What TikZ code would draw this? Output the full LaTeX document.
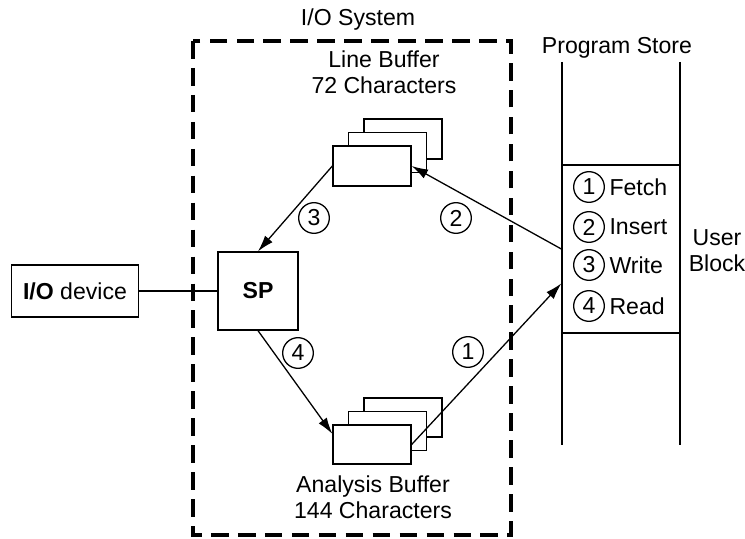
\documentclass[tikz,border=0pt]{standalone}
\usepackage{fontspec}
\setmainfont{Liberation Sans}
\usetikzlibrary{arrows.meta}

\begin{document}
\begin{tikzpicture}[x=0.03cm, y=-0.03cm, line width=1.1pt,
    every node/.style={font=\fontsize{19.7}{22}\selectfont},
    box/.style={draw, fill=white, inner sep=0pt},
    num/.style={draw, circle, inner sep=0pt, minimum size=0.92cm},
    arr/.style={-{Latex[length=14pt, width=8.5pt]}}]
  % \draw [step=10, gray, very thin] (0, 0) grid (745, 539);
  \useasboundingbox (0, 0) rectangle (745, 539);
  \draw [line width=3pt, dash pattern=on 15pt off 8pt] (193, 41) rectangle (511, 535);
  \node (iosys) at (358, 20) {I/O System};
  \node (dev) [box, minimum width=3.81cm, minimum height=1.56cm] at (75, 291) {\textbf{I/O} device};
  \node (sp) [box, minimum width=2.4cm, minimum height=2.34cm] at (258, 291) {\textbf{SP}};
  \draw (dev) -- (sp);
  % buffers, back copies first
  \foreach \d in {2, 1} {
    \draw [fill=white] (333 + 15.5*\d, 146 - 13.5*\d) rectangle +(78, 40);
    \draw [fill=white] (333 + 15.5*\d, 425 - 13.5*\d) rectangle +(78, 39);
  }
  \node (lbuf) [box, minimum width=2.34cm, minimum height=1.2cm] at (372, 166) {};
  \node (abuf) [box, minimum width=2.34cm, minimum height=1.17cm] at (372, 444.5) {};
  \node (lbuftxt) [align=center] at (384, 72) {Line Buffer\\72 Characters};
  \node (abuftxt) [align=center] at (373, 497) {Analysis Buffer\\144 Characters};
  % program store
  \draw (562, 62) -- (562, 445) (680, 62) -- (680, 445);
  \node (store) at (617, 48) {Program Store};
  \node (ublock) [box, minimum width=3.54cm, minimum height=5.04cm] at (621, 249) {};
  \node (ubtxt) [align=center] at (717, 251) {User\\Block};
  \foreach \n/\t/\y in {1/Fetch/187, 2/Insert/227, 3/Write/265, 4/Read/306} {
    \node (op\n) [num] at (589, \y) {\n};
    \node (optxt\n) [anchor=west] at (605, \y) {\t};
  }
  % transfers
  \draw [arr] (lbuf.west) -- (sp.north);
  \draw [arr] (sp.south) -- (abuf.165);
  \draw [arr] (abuf.east) -- (ublock.210);
  \draw [arr] (ublock.west) -- (lbuf.east);
  \node (n3) [num] at (314, 218) {3};
  \node (n2) [num] at (456, 218) {2};
  \node (n4) [num] at (298, 353) {4};
  \node (n1) [num] at (468, 352) {1};
\end{tikzpicture}
\end{document}
